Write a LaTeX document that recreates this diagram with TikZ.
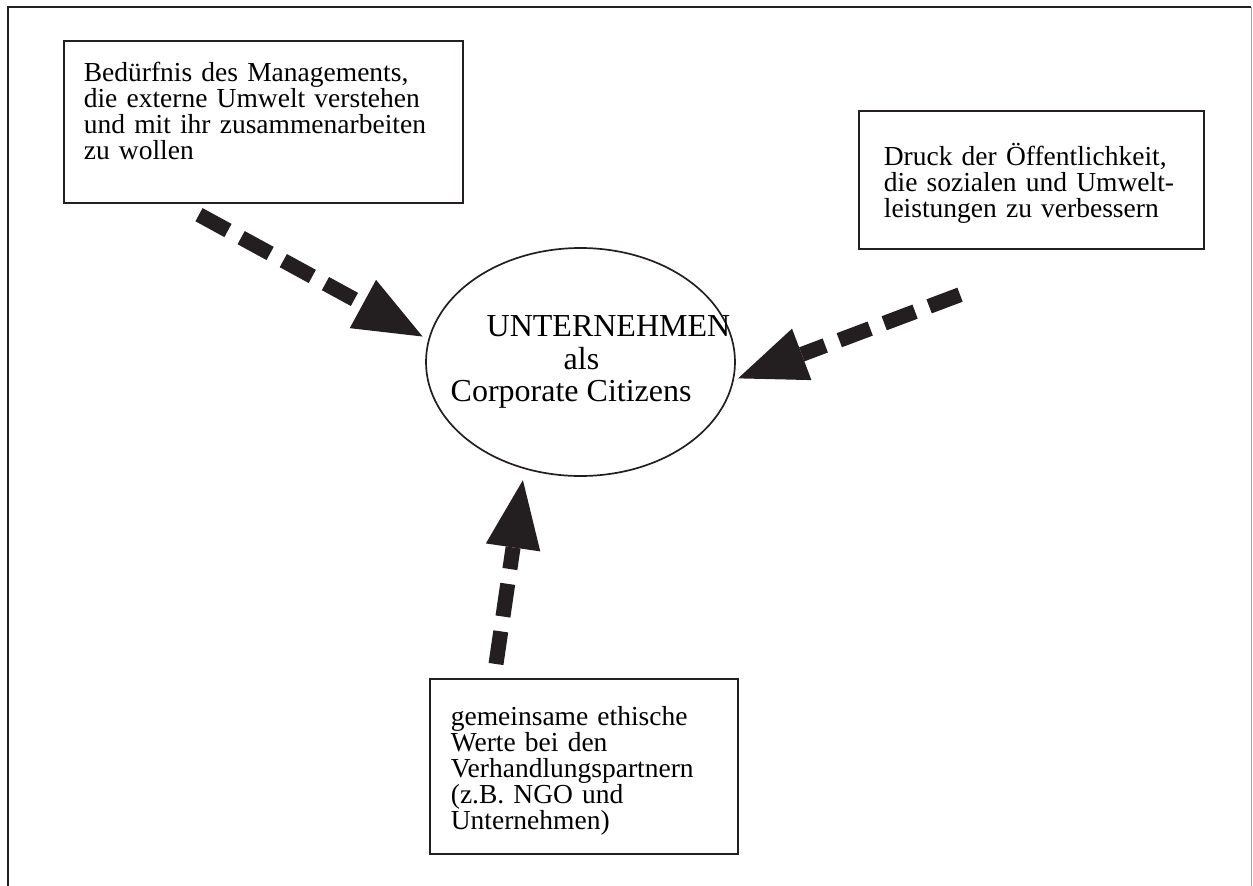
\documentclass[tikz,border=0pt]{standalone}
\usepackage{fontspec}
\setmainfont{Liberation Serif}
\definecolor{inkblack}{RGB}{35,31,32}
\usetikzlibrary{shapes.geometric,arrows.meta}
\tikzstyle{causeBox} = [
 rectangle,
 draw=inkblack,
 line width=1.7pt,
 inner sep=0pt,
 align=left,
 anchor=north west,
 font=\fontsize{27.5}{26}\selectfont
]
\tikzstyle{firmNode} = [
 ellipse,
 draw=inkblack,
 line width=1.7pt,
 minimum width=309pt,
 minimum height=228pt,
 inner xsep=-60pt,
 inner ysep=0pt,
 align=left,
 font=\fontsize{32}{32.5}\selectfont
]
\tikzstyle{pushArrow} = [
 draw=inkblack,
 line width=15pt,
 dash pattern=on 33pt off 15pt,
 -{Triangle[length=68pt,width=55pt,line width=0pt]}
]

\begin{document}
\begin{tikzpicture}[x=1pt,y=-1pt]
  \useasboundingbox (0,0) rectangle (1253,886);
  % frame
  \draw[inkblack, line width=1.7pt] (8,886) -- (8,7) -- (1251,7);
  \draw[gray!70, line width=1pt] (1251,7) -- (1251,886);

  \node [causeBox, text width=359pt, minimum width=399pt, text height=41pt, text depth=121pt]
    (mgmt) at (63,40) {Bedürfnis des Managements,\\ die externe Umwelt verstehen\\ und mit ihr zusammenarbeiten\\ zu wollen};
  \node [causeBox, text width=295pt, minimum width=345pt, text height=55pt, text depth=83pt]
    (public) at (858,110) {Druck der Öffentlichkeit,\\ die sozialen und Umwelt-\\ leistungen zu verbessern};
  \node [causeBox, text width=266pt, minimum width=308pt, text height=47pt, text depth=128pt]
    (values) at (429,678) {gemeinsame ethische\\ Werte bei den\\ Verhandlungspartnern\\ (z.B. NGO und\\ Unternehmen)};
  \node [firmNode] (firm) at (580.5,362)
    {\hspace*{56pt}UNTERNEHMEN\\ \hspace*{133pt}als\\ \hspace*{20pt}Corporate Citizens};

  \coordinate (mgmtFoot) at ([shift={(136,11)}]mgmt.south west);
  \coordinate (publicFoot) at ([shift={(102,45)}]public.south west);
  \coordinate (valuesFoot) at ([shift={(67,-14)}]values.north west);

  \draw[pushArrow] (mgmtFoot) -- ([shift={(-6,-1.4)}]firm.171);
  \draw[pushArrow] (publicFoot) -- ([shift={(3.8,0.2)}]firm.354);
  \draw[pushArrow] (valuesFoot) -- ([shift={(-4.9,10.1)}]firm.244);
\end{tikzpicture}
\end{document}
